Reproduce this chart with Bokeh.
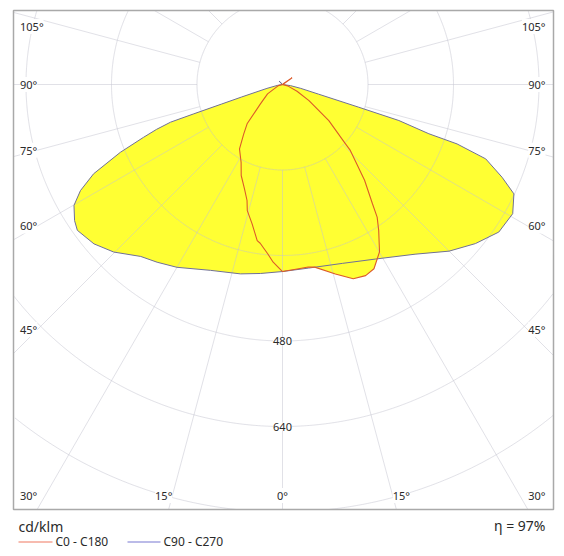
import numpy as np
from bokeh.plotting import figure
from bokeh.models import Range1d, Label
from bokeh.embed import file_html
from bokeh.resources import INLINE

# ---------------- data (gamma in degrees from nadir, intensity in cd/klm) ----------------
c0_gamma = [0, 5, 8, 10, 15.6, 20, 23.5, 26.4, 30.1, 33.4, 35.5, 37, 40.6, 45.8, 46.7, 52, 58.7, 65, 75, 90,
            120, 125, 130, 180]
c0_value = [350, 346, 345, 347, 368, 387, 390, 385, 362, 327, 305, 280, 236, 177, 162, 110, 58, 30, 10, 0,
            2, 22, 2, 0]
c180_gamma = [0, 3, 5, 8, 9.2, 12.3, 15.6, 17, 20, 24.4, 28, 33.7, 38, 42, 48.7, 58, 75, 90]
c180_value = [350, 333, 318, 300, 296, 267, 245, 227, 208, 187, 165, 145, 118, 99, 55, 33, 8, 0]
c90_gamma = [0, 8, 18.5, 28, 38, 45, 50.5, 55.7, 60.7, 64.7, 67.1, 69.9, 71.2, 71.4, 72.8, 73.4, 75, 78, 82, 90]
c90_value = [350, 347, 353, 370, 403, 441, 468, 490, 494, 479, 446, 405, 345, 289, 228, 149, 70, 35, 15, 0]
c270_gamma = [0, 6.6, 12.5, 21.2, 30, 35.2, 39.5, 45.2, 49.8, 54.6, 56.8, 59.9, 62.3, 64.7, 67.3, 69.2, 70.4,
              71.4, 71.7, 72.2, 73, 76, 80, 90, 125, 135, 145, 180]
c270_value = [350, 356, 363, 373, 395, 407, 417, 445, 462, 471, 465, 451, 427, 391, 329, 278, 250,
              221, 175, 120, 80, 30, 10, 0, 2, 9, 2, 0]

ring_values = [160, 320, 480, 640, 800, 960]
ring_labels = ["480", "640"]
radial_start = 160
radial_step = 15
side_ticks = [105, 90, 75, 60, 45, 30]
bottom_ticks = [15, 0]
unit_text = "cd/klm"
eta_text = "\u03b7 = 97%"
legend_names = ["C0 - C180", "C90 - C270"]

# ---------------- layout (pixels) ----------------
W, H = 564, 556
CX, CY = 282, 84            # pole of the diagram in figure pixels
K = 85.5 / 160.0            # pixels per cd/klm
FL, FR, FT, FB = 13, 553, 10, 509   # frame box in figure pixels

def X(fx):
    return (fx - CX) / K

def Y(fy):
    return (CY - fy) / K

YELLOW = "#ffff33"
RED = "#dc5a2a"
BLUE = "#707096"
GRID = "#c4c4d0"
TXT = "#2a2a2a"
FONT = "Noto Sans"

p = figure(width=W, height=H, output_backend="svg", toolbar_location=None,
           x_range=Range1d(X(0), X(W)), y_range=Range1d(Y(H), Y(0)),
           x_axis_type=None, y_axis_type=None, min_border=0,
           outline_line_color=None, background_fill_color="white", border_fill_color="white")
p.xgrid.visible = False
p.ygrid.visible = False

bx0, bx1, by0, by1 = X(FL), X(FR), Y(FB), Y(FT)


def curve(g_right, v_right, g_left, v_left):
    gr = np.radians(g_right)
    gl = np.radians(g_left)
    xr = np.array(v_right) * np.sin(gr)
    yr = -np.array(v_right) * np.cos(gr)
    xl = -np.array(v_left) * np.sin(gl)
    yl = -np.array(v_left) * np.cos(gl)
    xs = np.concatenate([xr, xl[::-1]])
    ys = np.concatenate([yr, yl[::-1]])
    return xs, ys

cx0, cy0 = curve(c0_gamma, c0_value, c180_gamma, c180_value)
cx9, cy9 = curve(c90_gamma, c90_value, c270_gamma, c270_value)

# fills
p.patch(cx9, cy9, fill_color=YELLOW, line_color=None)
p.patch(cx0, cy0, fill_color=YELLOW, line_color=None)

# grid circles (clipped to the frame)
t = np.linspace(0, 2 * np.pi, 1441)
for r in ring_values:
    xs = r * np.sin(t)
    ys = r * np.cos(t)
    inside = (xs >= bx0) & (xs <= bx1) & (ys >= by0) & (ys <= by1)
    xs = np.where(inside, xs, np.nan)
    ys = np.where(inside, ys, np.nan)
    p.line(xs, ys, line_color=GRID, line_alpha=0.5, line_width=1)

# radial lines
sx0, sy0, sx1, sy1 = [], [], [], []
for a in range(0, 360, radial_step):
    ar = np.radians(a)
    dx, dy = np.sin(ar), -np.cos(ar)
    ts = []
    if abs(dx) > 1e-9:
        ts.append((bx1 if dx > 0 else bx0) / dx)
    if abs(dy) > 1e-9:
        ts.append((by1 if dy > 0 else by0) / dy)
    tend = min(ts)
    if tend <= radial_start:
        continue
    sx0.append(radial_start * dx); sy0.append(radial_start * dy)
    sx1.append(tend * dx); sy1.append(tend * dy)
p.segment(sx0, sy0, sx1, sy1, line_color=GRID, line_alpha=0.5, line_width=1)

# outlines
p.line(np.append(cx9, cx9[0]), np.append(cy9, cy9[0]), line_color=BLUE, line_width=1)
p.line(np.append(cx0, cx0[0]), np.append(cy0, cy0[0]), line_color=RED, line_width=1.1)

# frame
p.quad(left=[bx0], right=[bx1], bottom=[by0], top=[by1], fill_color=None,
       line_color="#a9a9a9", line_width=1.5)

def lab(x, y, text, align="center", size="11px", bg=True):
    kw = dict(x=x, y=y, text=text, text_font=FONT, text_font_size=size, text_color=TXT,
              text_align=align, text_baseline="middle")
    if bg:
        kw["background_fill_color"] = "white"
    p.add_layout(Label(**kw))

# ring labels
for s in ring_labels:
    lab(0, -float(s), s)

# side angle labels
for a in side_ticks:
    fy = CY + 245.0 / np.tan(np.radians(a)) if a != 90 else CY
    fy = min(max(fy, FT + 16), FB - 14)
    lab(X(FL + 6.5), Y(fy), f"{a}\u00b0", align="left")
    lab(X(FR - 8), Y(fy), f"{a}\u00b0", align="right")

# bottom angle labels
fyb = FB - 14
for a in bottom_ticks:
    off = (fyb - CY) * np.tan(np.radians(a))
    if a == 0:
        lab(0, Y(fyb), f"{a}\u00b0")
    else:
        lab(-off / K, Y(fyb), f"{a}\u00b0", align="right")
        lab(off / K, Y(fyb), f"{a}\u00b0", align="left")

# texts below the frame
lab(X(18), Y(526), unit_text, align="left", size="14px", bg=False)
lab(X(545), Y(525), eta_text, align="right", size="14px", bg=False)

ly = Y(541.5)
p.line([X(18), X(52)], [ly, ly], line_color="#f4a494", line_width=1.3)
lab(X(55), Y(541), legend_names[0], align="left", size="12px", bg=False)
p.line([X(127), X(160)], [ly, ly], line_color="#a4a4e0", line_width=1.3)
lab(X(163), Y(541), legend_names[1], align="left", size="12px", bg=False)

open("out.html", "w").write(file_html(p, INLINE))
